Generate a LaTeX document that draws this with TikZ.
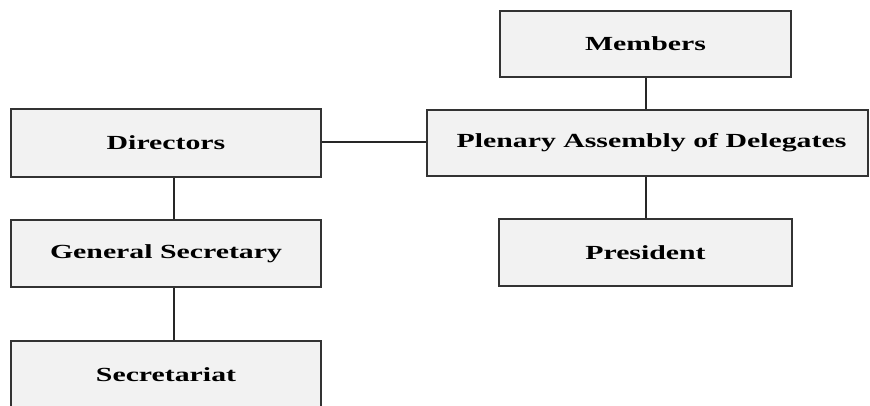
\documentclass[tikz,border=0pt]{standalone}
\usepackage{fontspec}
\setmainfont[FakeStretch=1.49]{Liberation Serif}
\begin{document}
\begin{tikzpicture}[x=1pt,y=-1pt,
  orgbox/.style={draw=black!80, line width=2pt, fill=black!5, inner sep=0pt,
    font=\fontsize{20}{24}\selectfont\bfseries, text=black},
  link/.style={draw=black!85, line width=2.2pt}]
\useasboundingbox (0,0) rectangle (870,405);
\node[orgbox, minimum width=310pt, minimum height=68pt] (dir) at (166,143) {Directors};
\node[orgbox, minimum width=310pt, minimum height=67pt] (gs) at (166,253.5) {General Secretary};
\node[orgbox, minimum width=310pt, minimum height=68pt] (sec) at (166,375) {Secretariat};
\node[orgbox, minimum width=291pt, minimum height=66pt] (mem) at (645.5,44) {Members};
\node[orgbox, minimum width=441pt, minimum height=66pt] (pad) at (647.5,143) {\hspace{8pt}Plenary Assembly of Delegates};
\node[orgbox, minimum width=293pt, minimum height=67pt] (pres) at (645.5,252.5) {President};
\coordinate (lx) at (174,0);
\coordinate (hy) at (0,142);
\coordinate (rx) at (646,0);
\draw[link] (dir.east |- hy) -- (pad.west |- hy);
\draw[link] (dir.south -| lx) -- (gs.north -| lx);
\draw[link] (gs.south -| lx) -- (sec.north -| lx);
\draw[link] (mem.south -| rx) -- (pad.north -| rx);
\draw[link] (pad.south -| rx) -- (pres.north -| rx);
\end{tikzpicture}
\end{document}
